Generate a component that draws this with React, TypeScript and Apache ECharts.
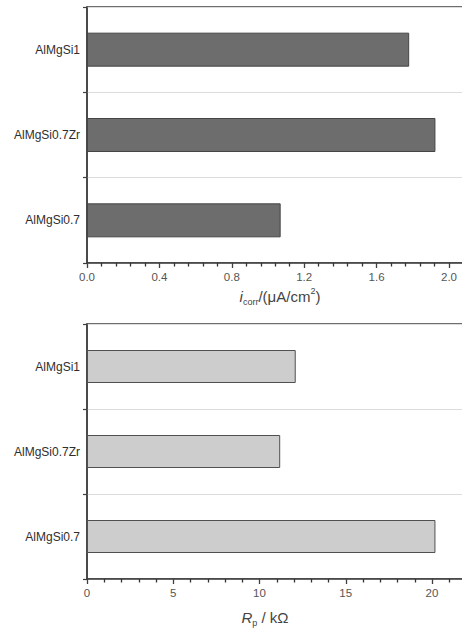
import React, { useEffect, useRef } from "react";
import * as echarts from "echarts";

const categories = ["AlMgSi0.7", "AlMgSi0.7Zr", "AlMgSi1"];
const icorrValues = [1.07, 1.925, 1.78];
const rpValues = [20.2, 11.2, 12.1];
const icorrTicks = { min: 0, max: 2.4, interval: 0.4 };
const rpTicks = { min: 0, max: 25, interval: 5 };

const FONT = "'Liberation Sans', Arial, sans-serif";

export default function App() {
  const ref = useRef<HTMLDivElement>(null);
  useEffect(() => {
    if (!ref.current) return;
    const chart = echarts.init(ref.current, null, { renderer: "svg" });
    const axisColor = "#3f3f3f";
    const yAxisCommon = (gridIndex: number) => ({
      type: "category",
      gridIndex,
      data: categories,
      axisLine: { show: true, lineStyle: { color: axisColor, width: 1.5 } },
      axisTick: { show: true, length: 4, lineStyle: { color: axisColor, width: 1.2 } },
      axisLabel: { fontFamily: FONT, fontSize: 12, color: "#2e2e2e", margin: 7 },
      splitLine: { show: true, lineStyle: { color: "#dcdcdc", width: 1 } },
    });
    const xAxisCommon = (gridIndex: number, t: { min: number; max: number; interval: number }, fmt: (v: number) => string) => ({
      type: "value",
      gridIndex,
      min: t.min,
      max: t.max,
      interval: t.interval,
      axisLine: { show: true, lineStyle: { color: axisColor, width: 1.5 } },
      axisTick: { show: true, length: 5, lineStyle: { color: axisColor, width: 1.3 } },
      minorTick: { show: true, splitNumber: 5, length: 3.5, lineStyle: { color: "#333", width: 1.3 } },
      axisLabel: { fontFamily: FONT, fontSize: 11.5, color: "#555", margin: 8, formatter: fmt, showMaxLabel: false },
      splitLine: { show: false },
    });
    const topPxPerUnit = 181;
    const botPxPerUnit = 17.25;
    const left = 87;
    chart.setOption({
      animation: false,
      backgroundColor: "#fff",
      grid: [
        {
          left,
          top: 7,
          height: 256,
          width: icorrTicks.max * topPxPerUnit,
          outerBoundsMode: "none",
          containLabel: false,
          show: true,
          borderColor: axisColor,
          borderWidth: 1.5,
          backgroundColor: "transparent",
        },
        {
          left,
          top: 324,
          height: 255,
          width: rpTicks.max * botPxPerUnit,
          outerBoundsMode: "none",
          containLabel: false,
          show: true,
          borderColor: axisColor,
          borderWidth: 1.5,
          backgroundColor: "transparent",
        },
      ],
      xAxis: [
        xAxisCommon(0, icorrTicks, (v: number) => v.toFixed(1)),
        xAxisCommon(1, rpTicks, (v: number) => String(v)),
      ],
      yAxis: [yAxisCommon(0), yAxisCommon(1)],
      series: [
        {
          type: "bar",
          xAxisIndex: 0,
          yAxisIndex: 0,
          data: icorrValues,
          barWidth: 34,
          itemStyle: { color: "#6d6d6d", borderColor: "#454545", borderWidth: 1 },
        },
        {
          type: "bar",
          xAxisIndex: 1,
          yAxisIndex: 1,
          data: rpValues,
          barWidth: 33,
          itemStyle: { color: "#cdcdcd", borderColor: "#505050", borderWidth: 1 },
        },
      ],
      graphic: [
        {
          type: "text",
          x: 280,
          y: 296,
          style: {
            text: "{i|i}{sub|corr}{n|/(μA/cm}{sup|2}{n|)}",
            align: "center",
            verticalAlign: "middle",
            fill: "#444",
            rich: {
              i: { fontFamily: FONT, fontSize: 15, fontStyle: "italic", fill: "#444", color: "#444", lineHeight: 20 },
              n: { fontFamily: FONT, fontSize: 15, fill: "#444", color: "#444", lineHeight: 20 },
              sub: { fontFamily: FONT, fontSize: 9, fill: "#444", color: "#444", verticalAlign: "bottom", lineHeight: 20, padding: [8, 0, 0, 0] },
              sup: { fontFamily: FONT, fontSize: 9, fill: "#444", color: "#444", verticalAlign: "top", lineHeight: 20, padding: [0, 0, 8, 0] },
            },
          },
        },
        {
          type: "text",
          x: 265,
          y: 617,
          style: {
            text: "{i|R}{sub|p}{n| / kΩ}",
            align: "center",
            verticalAlign: "middle",
            fill: "#444",
            rich: {
              i: { fontFamily: FONT, fontSize: 15, fontStyle: "italic", fill: "#444", color: "#444", lineHeight: 20 },
              n: { fontFamily: FONT, fontSize: 15, fill: "#444", color: "#444", lineHeight: 20 },
              sub: { fontFamily: FONT, fontSize: 9, fill: "#444", color: "#444", verticalAlign: "bottom", lineHeight: 20, padding: [8, 0, 0, 0] },
            },
          },
        },
      ],
    });
    return () => chart.dispose();
  }, []);
  return (
    <div
      ref={ref}
      style={{ position: "fixed", left: 0, top: 0, width: 462, height: 628, background: "#fff" }}
    />
  );
}
